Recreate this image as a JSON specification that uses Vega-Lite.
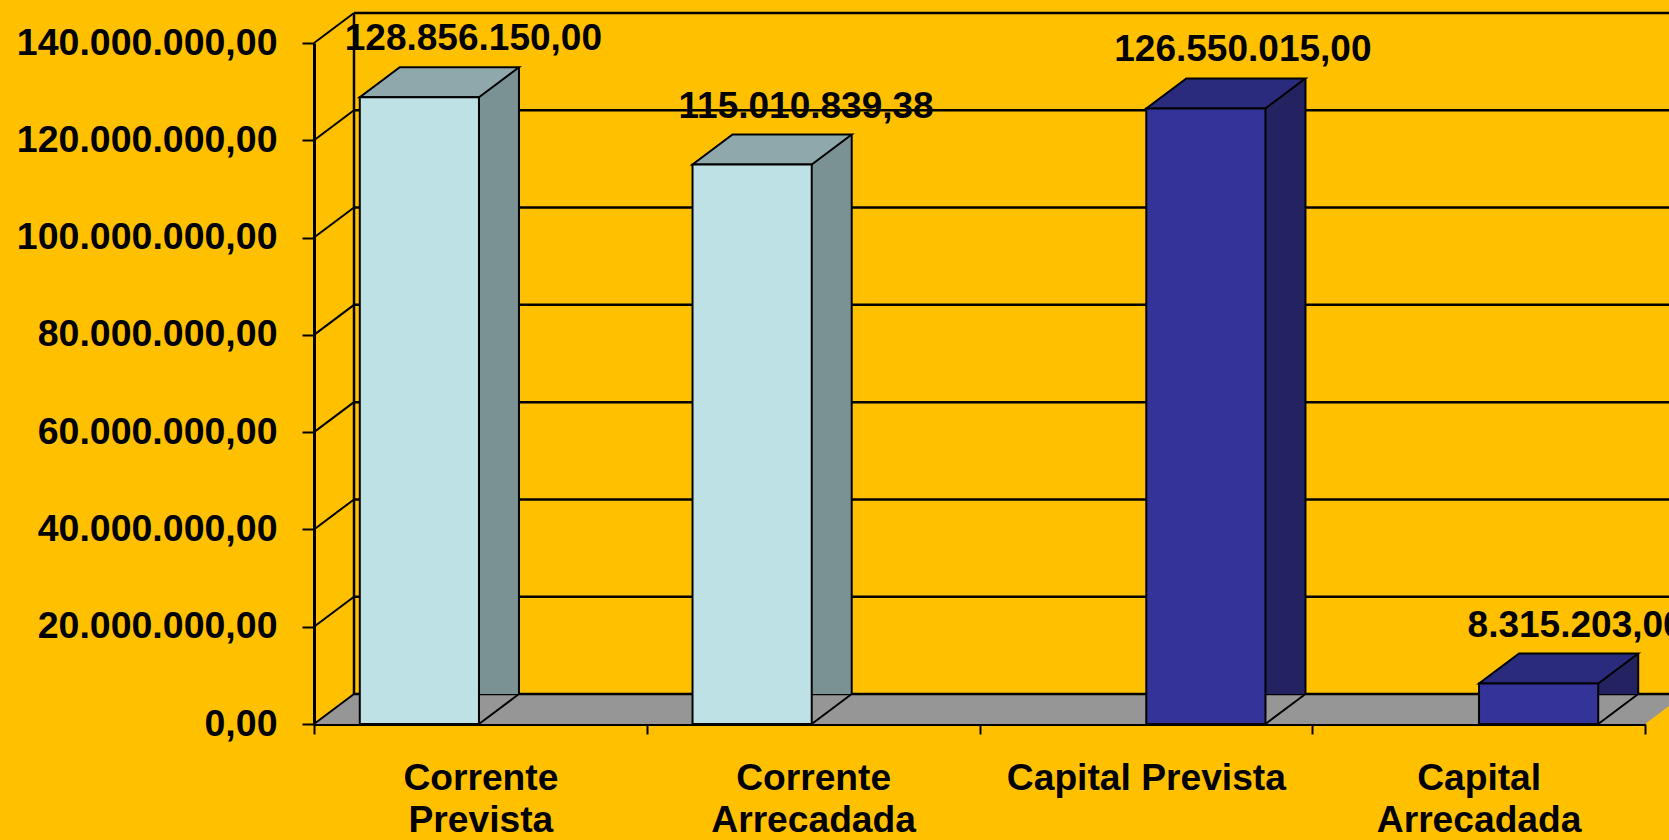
{
  "$schema": "https://vega.github.io/schema/vega-lite/v6.json",
  "width": 1331,
  "height": 681,
  "autosize": {"type": "none"},
  "padding": {"left": 314, "top": 43, "right": 24, "bottom": 116},
  "background": "#FFC000",
  "config": {
    "locale": {"number": {"decimal": ",", "thousands": ".", "grouping": [3], "currency": ["R$ ", ""]}},
    "view": {"stroke": null},
    "font": "Liberation Sans",
    "axis": {"domainColor": "#000000", "domainWidth": 3, "tickColor": "#000000", "tickWidth": 2, "labelColor": "#000000", "labelFont": "Liberation Sans", "labelFontWeight": "bold", "grid": false, "zindex": 1, "labelLimit": 0},
    "axisY": {"labelFontSize": 37.5, "tickSize": 12, "labelPadding": 25},
    "axisX": {"labelFontSize": 37.2, "tickSize": 10, "labelPadding": 26, "labelLineHeight": 42, "labelAngle": 0, "tickBand": "extent", "labelBaseline": "top"}
  },
  "data": {"values": [
    {"categoria": "Corrente Prevista", "serie": "Corrente", "valor": 128856150.00},
    {"categoria": "Corrente Arrecadada", "serie": "Corrente", "valor": 115010839.38},
    {"categoria": "Capital Prevista", "serie": "Capital", "valor": 126550015.00},
    {"categoria": "Capital Arrecadada", "serie": "Capital", "valor": 8315203.00}
  ]},
  "layer": [
    {
      "data": {"values": [{"v": 0}]},
      "mark": {"type": "point", "shape": "M0,0L1331,0L1371,-30L40,-30Z", "size": 4, "filled": true, "fill": "#969696", "strokeWidth": 0, "opacity": 1},
      "encoding": {"x": {"value": 0}, "y": {"field": "v", "type": "quantitative", "title": null, "scale": {"domain": [0, 140000000], "nice": false}}}
    },
    {
      "data": {"values": [{"v": 0}, {"v": 20000000}, {"v": 40000000}, {"v": 60000000}, {"v": 80000000}, {"v": 100000000}, {"v": 120000000}, {"v": 140000000}]},
      "layer": [
        {
          "mark": {"type": "rule", "color": "#000000", "strokeWidth": 2.5, "xOffset": 40, "x2Offset": 40, "yOffset": -30},
          "encoding": {"x": {"value": 0}, "x2": {"value": {"expr": "width"}}, "y": {"field": "v", "type": "quantitative", "title": null}}
        },
        {
          "mark": {"type": "point", "shape": "M0,0L40,-30", "size": 4, "filled": false, "color": "#000000", "strokeWidth": 2, "opacity": 1},
          "encoding": {"x": {"value": 0}, "y": {"field": "v", "type": "quantitative", "title": null}}
        }
      ]
    },
    {
      "data": {"values": [{"v": 0, "v2": 140000000}]},
      "mark": {"type": "rule", "color": "#000000", "strokeWidth": 2.5, "xOffset": 40, "yOffset": -30, "y2Offset": -30},
      "encoding": {"x": {"value": 0}, "y": {"field": "v", "type": "quantitative", "title": null}, "y2": {"field": "v2"}}
    },
    {
      "transform": [{"filter": "datum.serie == 'Corrente'"}],
      "layer": [
        {
          "mark": {"type": "bar", "width": 40, "xOffset": 18.6, "yOffset": -30, "fill": "#7B9295", "strokeWidth": 0},
          "encoding": {
            "x": {"field": "categoria", "type": "nominal", "sort": null, "title": null, "scale": {"domain": ["Corrente Prevista", "Corrente Arrecadada", "Capital Prevista", "Capital Arrecadada"], "paddingInner": 0, "paddingOuter": 0}, "axis": {"labelExpr": "isValid(datum.value) ? (datum.value == 'Capital Prevista' ? datum.value : split(datum.value, ' ')) : ''"}},
            "y": {"field": "valor", "type": "quantitative", "title": null, "scale": {"domain": [0, 140000000], "nice": false}, "axis": {"values": [0, 20000000, 40000000, 60000000, 80000000, 100000000, 120000000, 140000000], "format": ",.2f"}}
          }
        },
        {
          "mark": {"type": "point", "shape": "M59.6,0L99.6,0L99.6,-30Z", "size": 4, "filled": true, "fill": "#969696", "strokeWidth": 0, "opacity": 1, "xOffset": -61},
          "encoding": {"x": {"field": "categoria", "type": "nominal", "sort": null, "title": null}, "y": {"datum": 0}}
        },
        {
          "mark": {"type": "point", "shape": "M59.6,0L99.6,-30", "size": 4, "filled": false, "color": "#000000", "strokeWidth": 2, "opacity": 1, "xOffset": -61},
          "encoding": {"x": {"field": "categoria", "type": "nominal", "sort": null, "title": null}, "y": {"datum": 0}}
        },
        {
          "mark": {"type": "rule", "color": "#000000", "strokeWidth": 2, "xOffset": 38.6, "yOffset": -30, "y2Offset": -30},
          "encoding": {"x": {"field": "categoria", "type": "nominal", "sort": null, "title": null}, "y": {"field": "valor", "type": "quantitative", "title": null}, "y2": {"datum": 0}}
        },
        {
          "mark": {"type": "point", "shape": "M-59.6,0L59.6,0L99.6,-30L-19.6,-30Z", "size": 4, "filled": true, "fill": "#8EA8AC", "stroke": "#000000", "strokeWidth": 2, "opacity": 1, "xOffset": -61},
          "encoding": {"x": {"field": "categoria", "type": "nominal", "sort": null, "title": null}, "y": {"field": "valor", "type": "quantitative", "title": null}}
        },
        {
          "mark": {"type": "bar", "width": 119.2, "xOffset": -61, "fill": "#BDE1E5", "stroke": "#000000", "strokeWidth": 2},
          "encoding": {"x": {"field": "categoria", "type": "nominal", "sort": null, "title": null}, "y": {"field": "valor", "type": "quantitative", "title": null}}
        },
        {
          "mark": {"type": "text", "xOffset": -61, "dx": 54, "dy": -58, "fontSize": 37, "fontWeight": "bold", "font": "Liberation Sans", "color": "#000000", "align": "center", "baseline": "middle"},
          "encoding": {"x": {"field": "categoria", "type": "nominal", "sort": null, "title": null}, "y": {"field": "valor", "type": "quantitative", "title": null}, "text": {"field": "valor", "type": "quantitative", "format": ",.2f"}}
        }
      ]
    },
    {
      "transform": [{"filter": "datum.serie == 'Capital'"}],
      "layer": [
        {
          "mark": {"type": "bar", "width": 40, "xOffset": 139.6, "yOffset": -30, "fill": "#232361", "strokeWidth": 0},
          "encoding": {"x": {"field": "categoria", "type": "nominal", "sort": null, "title": null}, "y": {"field": "valor", "type": "quantitative", "title": null}}
        },
        {
          "mark": {"type": "point", "shape": "M59.6,0L99.6,0L99.6,-30Z", "size": 4, "filled": true, "fill": "#969696", "strokeWidth": 0, "opacity": 1, "xOffset": 60},
          "encoding": {"x": {"field": "categoria", "type": "nominal", "sort": null, "title": null}, "y": {"datum": 0}}
        },
        {
          "mark": {"type": "point", "shape": "M59.6,0L99.6,-30", "size": 4, "filled": false, "color": "#000000", "strokeWidth": 2, "opacity": 1, "xOffset": 60},
          "encoding": {"x": {"field": "categoria", "type": "nominal", "sort": null, "title": null}, "y": {"datum": 0}}
        },
        {
          "mark": {"type": "rule", "color": "#000000", "strokeWidth": 2, "xOffset": 159.6, "yOffset": -30, "y2Offset": -30},
          "encoding": {"x": {"field": "categoria", "type": "nominal", "sort": null, "title": null}, "y": {"field": "valor", "type": "quantitative", "title": null}, "y2": {"datum": 0}}
        },
        {
          "mark": {"type": "point", "shape": "M-59.6,0L59.6,0L99.6,-30L-19.6,-30Z", "size": 4, "filled": true, "fill": "#2B2B7D", "stroke": "#000000", "strokeWidth": 2, "opacity": 1, "xOffset": 60},
          "encoding": {"x": {"field": "categoria", "type": "nominal", "sort": null, "title": null}, "y": {"field": "valor", "type": "quantitative", "title": null}}
        },
        {
          "mark": {"type": "bar", "width": 119.2, "xOffset": 60, "fill": "#33339A", "stroke": "#000000", "strokeWidth": 2},
          "encoding": {"x": {"field": "categoria", "type": "nominal", "sort": null, "title": null}, "y": {"field": "valor", "type": "quantitative", "title": null}}
        },
        {
          "mark": {"type": "text", "xOffset": 60, "dx": 37, "dy": -58, "fontSize": 37, "fontWeight": "bold", "font": "Liberation Sans", "color": "#000000", "align": "center", "baseline": "middle"},
          "encoding": {"x": {"field": "categoria", "type": "nominal", "sort": null, "title": null}, "y": {"field": "valor", "type": "quantitative", "title": null}, "text": {"field": "valor", "type": "quantitative", "format": ",.2f"}}
        }
      ]
    }
  ]
}
